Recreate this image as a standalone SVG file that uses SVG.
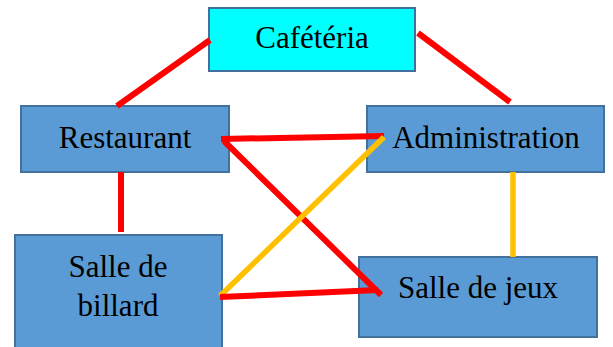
<svg xmlns="http://www.w3.org/2000/svg" width="613" height="347" viewBox="0 0 613 347">
<style>
.box{fill:#5B9BD5;stroke:#41719C;stroke-width:2}
.cafe{fill:#00FFFF;stroke:#41719C;stroke-width:2}
.red{stroke:#FF0000;stroke-width:6;fill:none}
.yel{stroke:#FFC000;stroke-width:5.5;fill:none}
</style>
<rect width="613" height="347" fill="#fff"/>
<g font-family="'Liberation Serif', serif" font-size="31" fill="#000" text-anchor="middle">
<g id="cafeteria"><rect class="cafe" x="209" y="8" width="206" height="63"/><text x="312" y="48">Cafétéria</text></g>
<g id="restaurant"><rect class="box" x="21" y="106" width="208" height="66"/><text x="125" y="148">Restaurant</text></g>
<g id="administration"><rect class="box" x="367" y="106" width="237" height="66"/><text x="486" y="148">Administration</text></g>
<g id="billard"><rect class="box" x="15" y="235" width="207" height="113"/><text x="118" y="277">Salle de</text><text x="118" y="316">billard</text></g>
<g id="jeux"><rect class="box" x="359" y="257" width="238" height="80"/><text x="478" y="298">Salle de jeux</text></g>
</g>
<g id="connectors">
<line class="red" x1="210" y1="40" x2="117" y2="106"/>
<line class="red" x1="418" y1="33" x2="510" y2="102"/>
<line class="red" x1="221" y1="139" x2="384" y2="136"/>
<line class="red" x1="224" y1="141" x2="381" y2="295"/>
<line class="red" x1="121" y1="172" x2="121" y2="232"/>
<line class="yel" x1="220" y1="296" x2="384" y2="137"/>
<line class="yel" x1="513" y1="172" x2="513" y2="257"/>
<line class="red" x1="220" y1="297" x2="378" y2="290"/>
</g>
</svg>
